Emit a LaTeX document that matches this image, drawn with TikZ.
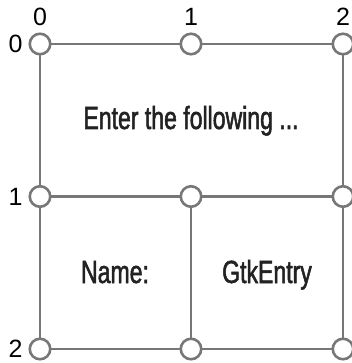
\documentclass[tikz,border=0pt]{standalone}
\usepackage{fontspec}
\setmainfont{Liberation Sans}
\newfontfamily\cellfont{Liberation Sans}[FakeStretch=0.72,FakeBold=1.6]
\begin{document}
\begin{tikzpicture}[x=1pt,y=-1pt,
  grid/.style={draw=linegray,line width=2.8pt},
  anchorpt/.style={circle,draw=linegray,fill=white,line width=2.6pt,minimum size=20.5pt,inner sep=0pt},
  idx/.style={font=\fontsize{25}{25}\selectfont,text=black,inner sep=0pt},
  celltext/.style={font=\cellfont\fontsize{32}{32}\selectfont,text=textdark,inner sep=0pt}]
\definecolor{linegray}{HTML}{777777}
\definecolor{textdark}{HTML}{222222}
\useasboundingbox (0,0) rectangle (352,363);
% attach points
\coordinate (p00) at (40,44);
\coordinate (p10) at (191,44);
\coordinate (p20) at (343,44);
\coordinate (p01) at (40,196.5);
\coordinate (p11) at (191,196.5);
\coordinate (p21) at (343,196.5);
\coordinate (p02) at (40,349);
\coordinate (p12) at (191,349);
\coordinate (p22) at (343,349);
% lines
\draw[grid] (p00) -- (p10) -- (p20) -- (p21) -- (p22) -- (p12) -- (p02) -- (p01) -- (p00);
\draw[grid] (p01) -- (p11) -- (p21);
\draw[grid] (p11) -- (p12);
% circles
\foreach \n in {p00,p10,p20,p01,p11,p21,p02,p12,p22}
  \node[anchorpt] (c\n) at (\n) {};
% index labels
\node[idx] (cx0) at (40,16.5) {0};
\node[idx] (cx1) at (191,16.5) {1};
\node[idx] (cx2) at (343,16.5) {2};
\node[idx] (ry0) at (15.5,44) {0};
\node[idx] (ry1) at (15.5,196.5) {1};
\node[idx] (ry2) at (15.5,349) {2};
% texts
\node[celltext,anchor=base] (t0) at (191,129) {Enter the following ...};
\node[celltext,anchor=base] (t1) at (115,283) {Name:};
\node[celltext,anchor=base] (t2) at (267,283) {GtkEntry};
\end{tikzpicture}
\end{document}
